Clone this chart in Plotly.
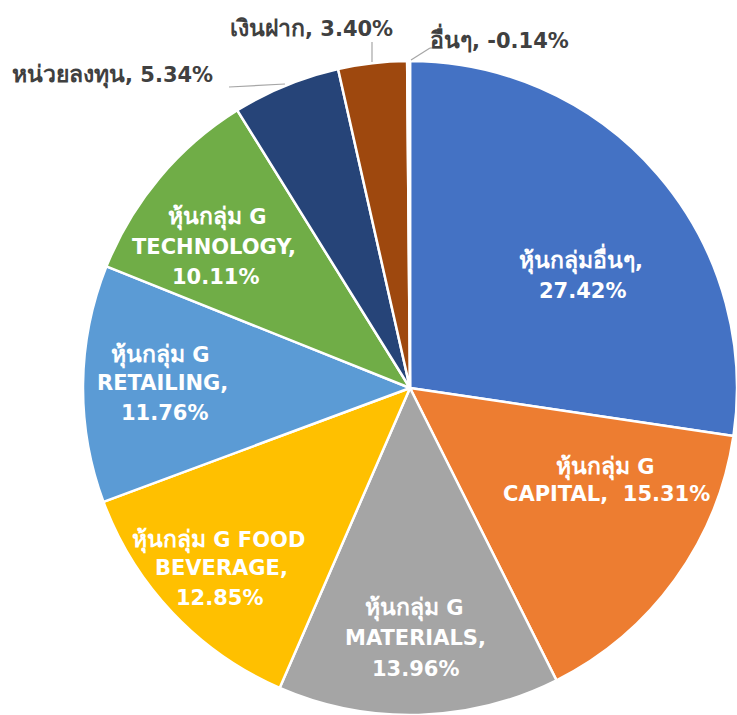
import re
import plotly.graph_objects as go

W, H = 737, 715

categories = ["หุ้นกลุ่มอื่นๆ", "หุ้นกลุ่ม G CAPITAL", "หุ้นกลุ่ม G MATERIALS",
              "หุ้นกลุ่ม G FOOD BEVERAGE", "หุ้นกลุ่ม G RETAILING",
              "หุ้นกลุ่ม G TECHNOLOGY", "หน่วยลงทุน", "เงินฝาก", "อื่นๆ"]
values = [27.42, 15.31, 13.96, 12.85, 11.76, 10.11, 5.34, 3.40, -0.14]
colors = ["#4472C4", "#ED7D31", "#A5A5A5", "#FFC000", "#5B9BD5",
          "#70AD47", "#264478", "#9E480E", "#FFFFFF"]

# label line layout (text lines, pixel anchors, anchor side) -- "{v}" is replaced by the value
label_lines = [
    (["หุ้นกลุ่มอื่นๆ,", "{v}"], [(581, 259), (582, 291)], "center"),
    (["หุ้นกลุ่ม G", "CAPITAL,  {v}"], [(605, 467), (606, 494)], "center"),
    (["หุ้นกลุ่ม G", "MATERIALS,", "{v}"], [(414, 608), (415, 638), (415, 669)], "center"),
    (["หุ้นกลุ่ม G FOOD", "BEVERAGE,", "{v}"], [(219, 540), (221, 568), (220, 598)], "center"),
    (["หุ้นกลุ่ม G", "RETAILING,", "{v}"], [(160, 355), (162, 383), (164, 413)], "center"),
    (["หุ้นกลุ่ม G", "TECHNOLOGY,", "{v}"], [(217, 217), (214, 247), (215, 277)], "center"),
    (["หน่วยลงทุน, {v}"], [(10, 75)], "left"),
    (["เงินฝาก, {v}"], [(228, 28)], "left"),
    (["อื่นๆ, {v}"], [(428, 38)], "left"),
]
inside = [True, True, True, True, True, True, False, False, False]

# leader lines for outside labels (pixel coordinates)
leaders = [
    [(229, 87), (285, 84)],
    [(372, 42), (372, 62)],
    [(411, 60), (430, 48), (443, 48)],
]

FONT = "Tahoma, 'DejaVu Sans', Verdana, 'Noto Sans', sans-serif"
BASE_SIZE = 21
THAI_SIZE = 23


def px(x):
    return x / W


def py(y):
    return 1 - y / H


def thai_span(s):
    return re.sub(r"([\u0E00-\u0E7F]+)",
                  lambda m: f'<span style="font-size:{THAI_SIZE}px">{m.group(1)}</span>', s)


fig = go.Figure()
fig.add_trace(go.Pie(
    labels=categories,
    values=[abs(v) for v in values],
    sort=False,
    direction="clockwise",
    rotation=0,
    marker=dict(colors=colors, line=dict(color="#FFFFFF", width=2.5)),
    textinfo="none",
    hoverinfo="label+percent",
    showlegend=False,
    domain=dict(x=[83 / W, 1.0], y=[0.0, 654 / H]),
))

annotations = []
for (lines, pos, anchor), val, ins in zip(label_lines, values, inside):
    vtxt = f"{val:.2f}%"
    for line, (x, y) in zip(lines, pos):
        annotations.append(dict(
            text=thai_span(line.replace("{v}", vtxt)),
            x=px(x), y=py(y), xref="paper", yref="paper",
            xanchor=anchor, yanchor="middle", showarrow=False,
            font=dict(family=FONT, size=BASE_SIZE, weight="bold",
                      color="#FFFFFF" if ins else "#404040"),
        ))

shapes = []
for pts in leaders:
    for (x0, y0), (x1, y1) in zip(pts[:-1], pts[1:]):
        shapes.append(dict(type="line", xref="paper", yref="paper",
                           x0=px(x0), y0=py(y0), x1=px(x1), y1=py(y1),
                           line=dict(color="#A6A6A6", width=1.2)))

fig.update_layout(
    width=W, height=H,
    margin=dict(l=0, r=0, t=0, b=0),
    paper_bgcolor="#FFFFFF",
    plot_bgcolor="#FFFFFF",
    annotations=annotations,
    shapes=shapes,
)

fig.write_html("out.html")
